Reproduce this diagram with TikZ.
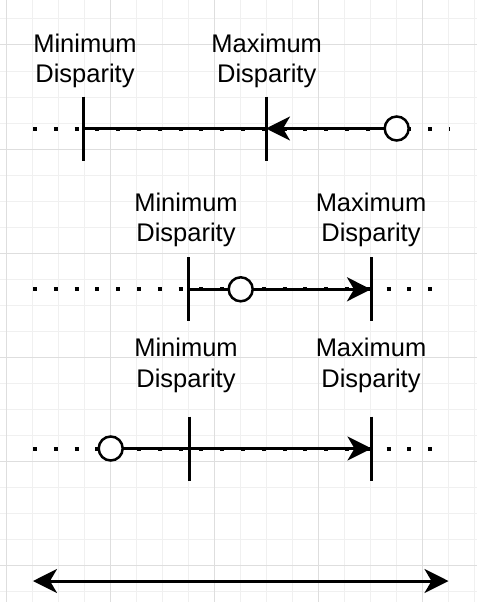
\documentclass[tikz,border=0pt]{standalone}
\usepackage{fontspec}
\setmainfont{Liberation Sans}
\usetikzlibrary{arrows.meta}

\begin{document}
\begin{tikzpicture}[x=1pt, y=-1pt,
  every node/.style={font=\fontsize{25.5}{30.7}\selectfont},
  >={Stealth[length=24pt, width=24pt, inset=7pt]},
  lbl/.style={align=center, inner sep=0pt, anchor=base},
  tickmark/.style={minimum width=0pt, minimum height=64pt, inner sep=0pt, outer sep=0pt},
  probe/.style={circle, draw, fill=white, line width=2.5pt, minimum size=24pt, inner sep=0pt, outer sep=0pt},
  dotline/.style={line width=4pt, dash pattern=on 4pt off 16.8pt},
  solidline/.style={line width=3pt},
  minorgrid/.style={black!6, line width=1pt},
  majorgrid/.style={black!13, line width=1pt}]
\useasboundingbox (0,0) rectangle (477,602);
% background grid
\foreach \x in {6,32,...,474} \draw[minorgrid] (\x,0) -- (\x,602);
\foreach \y in {19,45,...,600} \draw[minorgrid] (0,\y) -- (477,\y);
\foreach \x in {6,110,...,474} \draw[majorgrid] (\x,0) -- (\x,602);
\foreach \y in {45,149,...,600} \draw[majorgrid] (0,\y) -- (477,\y);
% labels (base = last line)
\node[lbl] (min1) at (85,82.7) {Minimum\\Disparity};
\node[lbl] (max1) at (266.7,82.7) {Maximum\\Disparity};
\node[lbl] (min2) at (186,241.7) {Minimum\\Disparity};
\node[lbl] (max2) at (371,241.7) {Maximum\\Disparity};
\node[lbl] (min3) at (186,387.3) {Minimum\\Disparity};
\node[lbl] (max3) at (371,387.3) {Maximum\\Disparity};
% number lines
\coordinate (l1) at (33,128.5);
\coordinate (r1) at (450,128.5);
\coordinate (l2) at (33,289.3);
\coordinate (r2) at (442,289.3);
\coordinate (l3) at (33,448.5);
\coordinate (r3) at (436,448.5);
\draw[dotline] (l1) -- (r1) (l2) -- (r2) (l3) -- (r3);
\node[tickmark] (a1) at (83.3,128.5) {};
\node[tickmark] (b1) at (266,128.5) {};
\node[tickmark] (a2) at (188.3,289.3) {};
\node[tickmark] (b2) at (371,289.3) {};
\node[tickmark] (a3) at (189,448.5) {};
\node[tickmark] (b3) at (371.5,448.5) {};
\draw[solidline]
  (a1.north) -- (a1.south) (b1.north) -- (b1.south)
  (a2.north) -- (a2.south) (b2.north) -- (b2.south)
  (a3.north) -- (a3.south) (b3.north) -- (b3.south);
\draw[solidline] (a1) -- (b1);
\draw[solidline, ->] (a2) -- (b2);
\node[probe] (c1) at (396.7,128.5) {};
\node[probe] (c2) at (240.7,289.3) {};
\node[probe] (c3) at (110.7,448.5) {};
\draw[solidline, ->] (c1) -- (b1);
\draw[solidline, ->] (c3) -- (b3);
% range
\coordinate (w) at (33,581);
\coordinate (e) at (448.5,581);
\draw[solidline, <->] (w) -- (e);
\end{tikzpicture}
\end{document}
